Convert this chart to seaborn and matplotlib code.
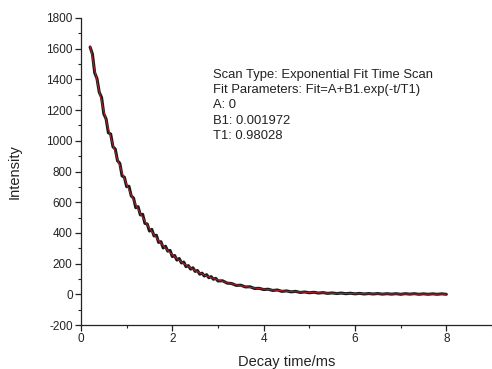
import matplotlib
matplotlib.use("Agg")
import matplotlib.pyplot as plt
from matplotlib.ticker import MultipleLocator
import seaborn as sns
import pandas as pd

# measured decay (time in ms, intensity)
t_data = [0.20, 0.25, 0.30, 0.35, 0.40, 0.45, 0.50, 0.55, 0.60, 0.65,
          0.70, 0.75, 0.80, 0.85, 0.90, 0.95, 1.00, 1.05, 1.10, 1.15,
          1.20, 1.25, 1.30, 1.35, 1.40, 1.45, 1.50, 1.55, 1.60, 1.65,
          1.70, 1.75, 1.80, 1.85, 1.90, 1.95, 2.00, 2.05, 2.10, 2.15,
          2.20, 2.25, 2.30, 2.35, 2.40, 2.45, 2.50, 2.55, 2.60, 2.65,
          2.70, 2.75, 2.80, 2.85, 2.90, 2.95, 3.00,
          3.1, 3.2, 3.3, 3.4, 3.5, 3.6, 3.7, 3.8, 3.9, 4.0,
          4.1, 4.2, 4.3, 4.4, 4.5, 4.6, 4.7, 4.8, 4.9, 5.0,
          5.1, 5.2, 5.3, 5.4, 5.5, 5.6, 5.7, 5.8, 5.9, 6.0,
          6.1, 6.2, 6.3, 6.4, 6.5, 6.6, 6.7, 6.8, 6.9, 7.0,
          7.1, 7.2, 7.3, 7.4, 7.5, 7.6, 7.7, 7.8, 7.9, 8.0]
i_data = [1610, 1565, 1443, 1405, 1316, 1283, 1175, 1142, 1052, 1044,
          961, 946, 870, 853, 771, 763, 701, 704, 641, 627,
          564, 571, 517, 521, 462, 458, 412, 423, 380, 385,
          338, 343, 302, 313, 281, 286, 246, 253, 223, 233,
          204, 210, 180, 187, 164, 173, 149, 155, 131, 138,
          119, 128, 108, 115, 98, 104, 87,
          88, 73, 70, 58, 59, 48, 49, 38, 39, 31,
          33, 25, 28, 19, 22, 16, 19, 12, 15, 10,
          13, 8, 11, 6, 9, 5, 8, 4, 7, 3,
          6, 2, 5, 2, 5, 1, 4, 1, 4, 0,
          4, 1, 4, 0, 3, 0, 3, 0, 3, 0]

# fitted curve (A + B1.exp(-t/T1))
t_fit = [0.2, 0.3, 0.4, 0.5, 0.6, 0.7, 0.8, 0.9, 1.0, 1.1,
         1.2, 1.3, 1.4, 1.5, 1.6, 1.7, 1.8, 1.9, 2.0, 2.1,
         2.2, 2.3, 2.4, 2.5, 2.6, 2.7, 2.8, 2.9, 3.0, 3.2,
         3.4, 3.6, 3.8, 4.0, 4.5, 5.0, 5.5, 6.0, 6.5, 7.0, 7.5, 8.0]
i_fit = [1620, 1463, 1321, 1193, 1077, 973, 878, 793, 716, 647,
         584, 527, 476, 430, 388, 350, 316, 286, 258, 233,
         210, 190, 172, 155, 140, 126, 114, 103, 93, 76,
         62, 50, 41, 34, 20, 12, 7, 4, 3, 2, 1, 1]

x_ticks = [0, 2, 4, 6, 8]
y_ticks = [-200, 0, 200, 400, 600, 800, 1000, 1200, 1400, 1600, 1800]

info_lines = ["Scan Type: Exponential Fit Time Scan",
              "Fit Parameters: Fit=A+B1.exp(-t/T1)",
              "A: 0",
              "B1: 0.001972",
              "T1: 0.98028"]

sns.set_theme(style="ticks")
plt.rcParams['font.family'] = ['Liberation Sans', 'DejaVu Sans']

fig = plt.figure(figsize=(4.92, 3.69), dpi=100)
ax = fig.add_axes([81 / 492, 44 / 369, 411 / 492, 307 / 369])

df_data = pd.DataFrame({"t": t_data, "I": i_data})
df_fit = pd.DataFrame({"t": t_fit, "I": i_fit})
sns.lineplot(data=df_data, x="t", y="I", ax=ax, color="#1a1a1a",
             linewidth=2.2, estimator=None, sort=False)
sns.lineplot(data=df_fit, x="t", y="I", ax=ax, color="#b8202a",
             linewidth=0.7, estimator=None, sort=False)

ax.set_xlim(0, 9)
ax.set_ylim(-200, 1800)
ax.set_xticks(x_ticks)
ax.set_yticks(y_ticks)
ax.set_xticklabels([str(v) for v in x_ticks])
ax.set_yticklabels([str(v) for v in y_ticks])
ax.xaxis.set_minor_locator(MultipleLocator(1))
ax.yaxis.set_minor_locator(MultipleLocator(100))
ax.tick_params(which="major", direction="out", length=4, width=0.9,
               labelsize=8.5, colors="#222222", pad=2)
ax.tick_params(which="minor", direction="out", length=2.5, width=0.8,
               colors="#222222")
sns.despine(ax=ax)
for s in ["left", "bottom"]:
    ax.spines[s].set_linewidth(0.9)
    ax.spines[s].set_color("#222222")

ax.set_xlabel("Decay time/ms", fontsize=10.5, color="#222222", labelpad=7)
ax.set_ylabel("Intensity", fontsize=10.5, color="#222222", labelpad=18)

for k, line in enumerate(info_lines):
    fig.text(213 / 492, 1 - (75 + 15.2 * k) / 369, line, fontsize=9.4,
             color="#222222", va="center", ha="left")

fig.savefig("out.png", dpi=100)
